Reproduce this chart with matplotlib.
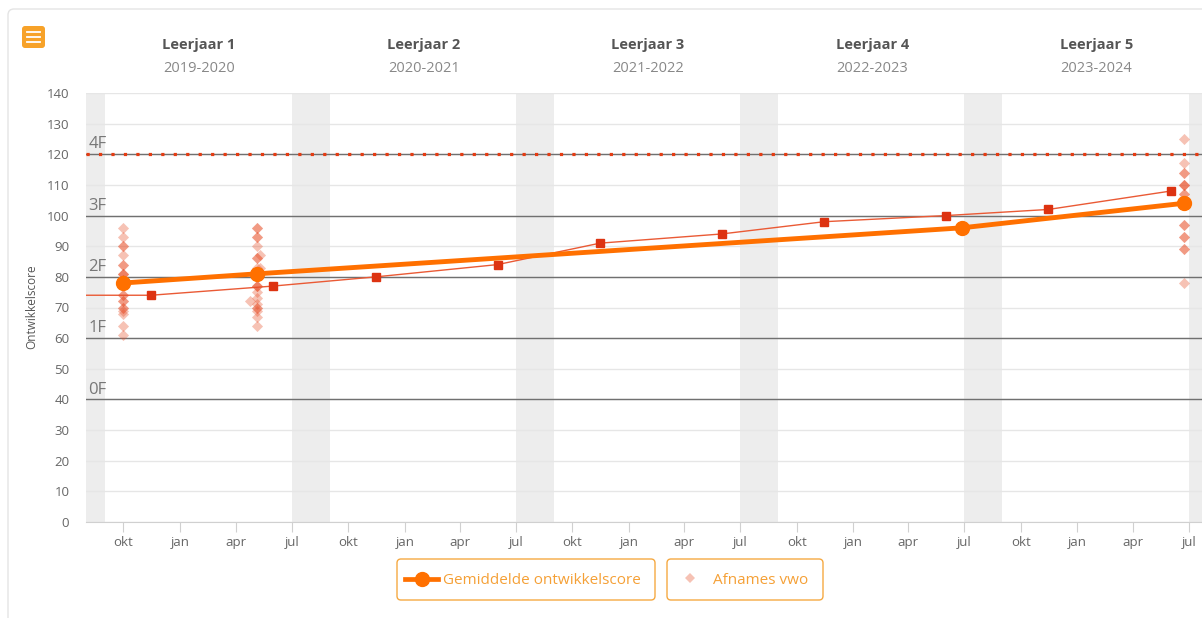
import numpy as np
import matplotlib.pyplot as plt
import matplotlib.dates as mdates
from matplotlib.patches import FancyBboxPatch
from matplotlib.lines import Line2D
from matplotlib.transforms import IdentityTransform, blended_transform_factory

plt.rcParams['font.family'] = ['Open Sans', 'DejaVu Sans']

# gemiddelde ontwikkelscore
avg_dates = np.array(['2019-10-01', '2020-05-06', '2023-06-27', '2024-06-22'], dtype='datetime64[D]')
avg_vals = [78, 81, 96, 104]

# referentielijn (rode lijn met vierkantjes)
ref_dates = np.array(['2019-06-01', '2019-11-15', '2020-06-01', '2020-11-15', '2021-06-01',
                      '2021-11-15', '2022-06-01', '2022-11-15', '2023-06-01', '2023-11-15',
                      '2024-06-01'], dtype='datetime64[D]')
ref_vals = [74, 74, 77, 80, 84, 91, 94, 98, 100, 102, 108]

# afnames vwo (losse toetsen)
afn_dates = np.array(
    ['2019-10-01'] * 22 + ['2020-05-06'] * 20 + ['2020-04-24', '2020-05-10', '2020-05-10']
    + ['2024-06-22'] * 17, dtype='datetime64[D]')
afn_vals = ([96, 93, 90, 90, 87, 84, 84, 81, 81, 81, 79, 79, 74, 74, 72, 72, 70, 70, 69, 68, 64, 61]
            + [96, 96, 93, 93, 90, 86, 86, 83, 81, 77, 77, 77, 75, 73, 71, 70, 70, 69, 67, 64]
            + [72, 87, 83]
            + [125, 117, 114, 114, 110, 110, 110, 107, 107, 104, 97, 97, 93, 93, 89, 89, 78])

levels = [40, 60, 80, 100, 120]
level_names = ['0F', '1F', '2F', '3F', '4F']

years = ['Leerjaar 1', 'Leerjaar 2', 'Leerjaar 3', 'Leerjaar 4', 'Leerjaar 5']
periods = ['2019-2020', '2020-2021', '2021-2022', '2022-2023', '2023-2024']

month_names = {1: 'jan', 4: 'apr', 7: 'jul', 10: 'okt'}

W, H = 1202, 618
fig = plt.figure(figsize=(W / 100, H / 100), dpi=100)
ax = fig.add_axes([86 / W, 1 - 522 / H, (W - 86) / W, (522 - 93) / H])

x0 = np.datetime64('2019-08-01')
x1 = np.datetime64('2024-07-22')
ax.set_xlim(x0, x1)
ax.set_ylim(0, 140)

# zomervakanties
for y in range(2019, 2025):
    ax.axvspan(np.datetime64(f'{y}-07-01'), np.datetime64(f'{y}-09-01'),
               color='#ededed', lw=0, zorder=0.5)

ax.set_yticks(range(0, 141, 10))
ax.grid(axis='y', color='#e6e6e6', lw=1, zorder=0)
ax.set_axisbelow(True)

# niveaulijnen
for lv, nm in zip(levels, level_names):
    ax.axhline(lv, color='#707070', lw=1, zorder=1)
    ax.text(0.002, lv + 0.6, nm, transform=blended_transform_factory(ax.transAxes, ax.transData),
            fontsize=12, color='#777777', va='bottom', ha='left', zorder=1)
ax.axhline(120, color='#e63c12', lw=2.3, dashes=(1, 2.9), zorder=1.5)

ax.plot(ref_dates, ref_vals, color='#ea5a35', lw=1, zorder=2)
ax.plot(ref_dates, ref_vals, ls='none', marker='s', ms=5.3, color='#dd3311', zorder=2.5)

ax.scatter(afn_dates, afn_vals, marker='D', s=32, color='#e8502a', alpha=0.35, lw=0, zorder=3)

ax.plot(avg_dates, avg_vals, color='#ff7000', lw=3.5, marker='o', ms=10, zorder=4)

# assen
for s in ['top', 'right', 'left']:
    ax.spines[s].set_visible(False)
ax.spines['bottom'].set_color('#d0d0d0')
ax.xaxis.set_major_locator(mdates.MonthLocator(bymonth=[1, 4, 7, 10]))
ax.xaxis.set_major_formatter(plt.FuncFormatter(lambda v, p: month_names[mdates.num2date(v).month]))
ax.tick_params(axis='x', length=7, color='#d0d0d0', labelcolor='#666666', labelsize=9.5, pad=3)
ax.tick_params(axis='y', length=0, labelcolor='#666666', labelsize=9.5, pad=12)

fig.text(32 / W, 1 - 307 / H, 'Ontwikkelscore', rotation=90, ha='center', va='center',
         fontsize=8.5, color='#555555')

# leerjaren
tr = blended_transform_factory(ax.transData, fig.transFigure)
for i, (yr, per) in enumerate(zip(years, periods)):
    xc = mdates.date2num(np.datetime64(f'{2020 + i}-02-01'))
    ax.text(xc, 1 - 45 / H, yr, transform=tr, ha='center', va='center',
            fontsize=10.5, fontweight='bold', color='#555555')
    ax.text(xc, 1 - 69 / H, per, transform=tr, ha='center', va='center',
            fontsize=10.5, color='#888888')

# kaartrand en menuknop (pixelcoordinaten)
px = IdentityTransform()
fig.add_artist(FancyBboxPatch((8, -20), W + 20, H - 9 + 20, boxstyle='round,pad=0,rounding_size=6',
                              fc='none', ec='#e4e4e4', lw=1, transform=px))
fig.add_artist(FancyBboxPatch((22, H - 48), 23, 22, boxstyle='round,pad=0,rounding_size=3',
                              fc='#f7a229', ec='none', transform=px))
for yy in [32, 37, 42]:
    fig.add_artist(Line2D([27, 40], [H - yy, H - yy], color='white', lw=1.3, transform=px))

# legenda
for (bx0, bx1) in [(397, 655), (667, 823)]:
    fig.add_artist(FancyBboxPatch((bx0, H - 600), bx1 - bx0, 41, boxstyle='round,pad=0,rounding_size=4',
                                  fc='white', ec='#f5a942', lw=1, transform=px))
fig.add_artist(Line2D([405, 438], [H - 579, H - 579], color='#ff7000', lw=3.4, transform=px))
fig.add_artist(Line2D([421.5], [H - 579], color='#ff7000', marker='o', ms=10, ls='none', transform=px))
fig.text(443 / W, 1 - 580 / H, 'Gemiddelde ontwikkelscore', ha='left', va='center',
         fontsize=11, color='#f5a036')
fig.add_artist(Line2D([690], [H - 578], color='#e8502a', alpha=0.35, marker='D', ms=5, ls='none',
                      mew=0, transform=px))
fig.text(713 / W, 1 - 580 / H, 'Afnames vwo', ha='left', va='center', fontsize=11, color='#f5a036')

fig.savefig('out.png', dpi=100)
